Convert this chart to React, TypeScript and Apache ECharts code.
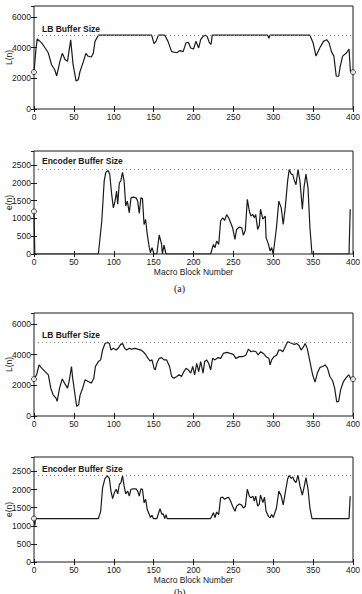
import React, { useEffect, useRef } from "react";
import * as echarts from "echarts";

// ---- data ----
const xTicks = [0, 50, 100, 150, 200, 250, 300, 350, 400];
const lbTicks = [0, 2000, 4000, 6000];
const encTicks = [0, 500, 1000, 1500, 2000, 2500];
const lbBufferSize = 4800;
const encBufferSize = 2400;

// (a) leaky-bucket occupancy L(n)
const lbA: [number, number][] = [
  [0, 2400], [2.5, 3900], [4, 4560], [9.6, 4300], [14, 3970], [18, 3640], [22, 2880], [26, 2550],
  [28.5, 2150], [32.5, 3100], [35.5, 3620], [39, 3200], [42, 3100], [46, 4500], [49, 2880],
  [52.7, 1830], [55.6, 1900], [57.7, 2440], [62, 3100], [65, 3620], [68, 3430], [72, 3380],
  [74.4, 3640], [76.5, 4400], [80.7, 4800], [147.5, 4800], [150.5, 4250], [153, 4400], [156, 4800],
  [164, 4800], [168, 4400], [172.6, 3730], [179, 3660], [183, 3800], [187, 3730], [190.6, 4300],
  [193.5, 4340], [196.5, 3970], [200, 3900], [203, 4400], [206.5, 3970], [209, 4510], [212, 4730],
  [215, 4800], [217, 4730], [220, 4300], [222, 4200], [223.5, 4800], [293, 4800], [294.5, 4600],
  [296, 4800], [346, 4800], [350, 4300], [353.6, 3440], [358.6, 4000], [363, 4400], [367, 4510],
  [370, 4300], [373, 3730], [376, 3440], [379, 2130], [382, 2130], [384, 2770], [387, 3440],
  [392, 3660], [395, 3900], [396.8, 2440], [400, 2400],
];
const lbAMarks: [number, number][] = [[0, 2400], [400, 2400]];

// (a) encoder buffer e(n)
const encA: [number, number][] = [
  [0, 1200], [1, 0], [80.7, 0], [85, 930], [88, 2050], [90, 2300], [93, 2350], [95, 2240],
  [97.4, 1680], [99.5, 1300], [101.6, 1490], [103.6, 1770], [105, 1400], [107, 2000], [109, 2070],
  [111, 2300], [113, 2050], [115, 1350], [117, 1490], [119.5, 1160], [121.6, 1580], [124.5, 1600],
  [128, 1580], [130, 1490], [132, 1140], [134, 1580], [136, 1560], [138, 830], [140, 970],
  [142, 550], [144.6, 177], [146, 40], [148, 177], [150.5, 0], [154, 0], [157, 535], [160, 270],
  [161, 0], [163, 250], [165.5, 0], [221.5, 0], [225, 270], [227, 177], [229, 365], [231.6, 270],
  [234, 930], [236.6, 1020], [239, 945], [241.6, 1110], [244, 1020], [246.6, 880], [249, 740],
  [252, 410], [254, 690], [257.5, 760], [260.4, 740], [262.5, 530], [265, 670], [267.5, 1540],
  [270, 1210], [272, 1070], [274.5, 1110], [276.3, 1020], [278, 1110], [280.5, 690], [282.5, 810],
  [284, 1260], [287, 980], [290, 1070], [291, 460], [294, 270], [296, 85], [298, 180], [300, 0],
  [304, 740], [307, 1490], [310, 1300], [312.5, 830], [315, 1300], [318, 2050], [320, 2380],
  [322.5, 2250], [324.4, 2240], [326, 2100], [328.5, 1950], [331, 2380], [333.5, 2050],
  [336.5, 1260], [338.5, 1860], [341, 2250], [343.6, 1860], [346, 740], [348.6, 0], [395, 0],
  [396.5, 1260],
];
const encAMarks: [number, number][] = [[0, 1200]];

// (b) leaky-bucket occupancy L(n)
const lbB: [number, number][] = [
  [0, 2400], [3.3, 2680], [6.3, 3320], [9.6, 3110], [14, 2890], [18, 2680], [21, 1810], [24, 1380],
  [27.6, 1160], [29, 950], [32, 1810], [35.5, 2410], [39, 2070], [42, 1810], [44, 2240], [47, 3220],
  [48.5, 2460], [51.4, 1380], [53.5, 630], [56, 730], [57.7, 1340], [61, 1810], [64, 2350],
  [68, 2240], [72, 2140], [75, 2460], [77, 3220], [80.7, 3540], [83.6, 3650], [86, 4290],
  [89, 4720], [92, 4790], [94.5, 4720], [96.5, 4290], [99.5, 4400], [103, 4290], [106, 4440],
  [108.7, 4660], [111, 4720], [113.7, 4400], [116, 4290], [119.5, 4400], [122.5, 4350],
  [126.6, 4400], [131, 4330], [134, 4290], [137, 4180], [140.4, 3970], [143, 3750], [145.5, 3580],
  [148, 3650], [150.5, 3110], [152, 3000], [154, 3430], [157, 3750], [160, 3800], [163, 3650],
  [166.3, 3650], [170, 3220], [172.6, 2570], [175.5, 2460], [179, 2570], [182, 2680], [185, 2570],
  [188, 2890], [190.6, 3110], [193.5, 3000], [196.5, 2790], [199, 3220], [201.5, 2680], [204, 3430],
  [206.5, 2890], [209, 3540], [212, 2790], [214, 3540], [216.5, 3650], [219, 3430], [221.5, 3000],
  [224, 3750], [227, 3650], [230.7, 3800], [234, 3750], [237.4, 4070], [242, 4140], [246, 4070],
  [250, 4010], [253, 3750], [257.5, 3860], [261.7, 3860], [265.8, 3970], [268.8, 4350], [272, 4180],
  [275, 4230], [278.4, 4180], [281, 3970], [284.3, 4180], [287.6, 4070], [291, 3860], [294.5, 3750],
  [296, 3320], [298, 3650], [301, 3860], [304.4, 3970], [307, 4290], [309.3, 4290], [312, 4180],
  [315, 4510], [318, 4830], [320.6, 4790], [323.5, 4720], [326.5, 4660], [329.4, 4720], [332, 4610],
  [335, 4290], [338, 4510], [340, 4720], [342.6, 4400], [346, 3540], [349.4, 2680], [352.4, 2200],
  [355.3, 2790], [358.6, 3160], [362, 3220], [365, 3320], [368, 3110], [371, 2570], [374.5, 2290],
  [377, 1810], [379.6, 910], [382, 950], [384.5, 1700], [388, 2240], [391, 2460], [394.6, 2680],
  [397, 2460], [400, 2400],
];
const lbBMarks: [number, number][] = [[0, 2400], [400, 2400]];

// (b) encoder buffer e(n)
const encB: [number, number][] = [
  [0, 1200], [1, 1000], [2, 1200], [80.7, 1200], [83.6, 1400], [86, 2050], [89, 2310], [92, 2380],
  [94.5, 2310], [96.5, 1960], [98.6, 1750], [100.7, 1910], [103, 2010], [105, 1880], [107, 2140],
  [109, 2190], [111, 2380], [113, 2100], [115, 1880], [117.5, 1960], [119.5, 1820], [121.6, 2010],
  [124.5, 2020], [128, 2020], [130, 1960], [132, 1820], [134, 2020], [136, 2010], [138, 1640],
  [140, 1730], [142, 1450], [144.6, 1310], [146, 1230], [148, 1290], [149.6, 1200], [154, 1200],
  [158, 1470], [160.5, 1310], [162, 1330], [164, 1200], [165.5, 1310], [167, 1200], [221.5, 1200],
  [225, 1360], [227, 1230], [229, 1380], [231.6, 1310], [234, 1770], [236.6, 1790], [239, 1730],
  [241.6, 1770], [244, 1790], [246.6, 1680], [249, 1540], [252, 1400], [254, 1540], [257.5, 1600],
  [260.4, 1570], [262.5, 1490], [265, 1540], [267.5, 2010], [270, 1820], [272, 1770], [274.5, 1820],
  [276.3, 1680], [278, 1820], [280.5, 1540], [282.5, 1600], [284, 1850], [287, 1640], [289, 1790],
  [291, 1400], [294, 1260], [296, 1220], [298, 1310], [300, 1230], [304, 1490], [307, 1960],
  [310, 1820], [312.5, 1580], [315, 1910], [318, 2290], [320, 2390], [322.5, 2310], [324.4, 2350],
  [326, 2260], [328.5, 2190], [331, 2400], [333.5, 2100], [336.5, 1850], [338.5, 2050], [341, 2330],
  [343.6, 2010], [346, 1490], [348.6, 1200], [395, 1200], [396.5, 1820],
];
const encBMarks: [number, number][] = [[0, 1200]];

const FONT = "'Liberation Sans', Arial, Helvetica, sans-serif";
const INK = "#1a1a1a";

type Panel = {
  top: number;
  height: number;
  yMax: number;
  yInterval: number;
  yTicks: number[];
  yName: string;
  xName: string;
  data: [number, number][];
  marks: [number, number][];
  limit: number;
};

const panels: Panel[] = [
  { top: 6, height: 103, yMax: 6700, yInterval: 2000, yTicks: lbTicks, yName: "L(n)", xName: "", data: lbA, marks: lbAMarks, limit: lbBufferSize },
  { top: 151, height: 103, yMax: 2900, yInterval: 500, yTicks: encTicks, yName: "e(n)", xName: "Macro Block Number", data: encA, marks: encAMarks, limit: encBufferSize },
  { top: 313, height: 103, yMax: 6700, yInterval: 2000, yTicks: lbTicks, yName: "L(n)", xName: "", data: lbB, marks: lbBMarks, limit: lbBufferSize },
  { top: 457, height: 105, yMax: 2900, yInterval: 500, yTicks: encTicks, yName: "e(n)", xName: "Macro Block Number", data: encB, marks: encBMarks, limit: encBufferSize },
];

const labelStyle = { fontFamily: FONT, fontSize: 8.5, color: INK };

function buildOption() {
  const grid: any[] = [];
  const xAxis: any[] = [];
  const yAxis: any[] = [];
  const series: any[] = [];
  const graphic: any[] = [];

  panels.forEach((p, i) => {
    grid.push({
      left: 34,
      right: 9,
      top: p.top,
      height: p.height,
      show: true,
      borderColor: INK,
      borderWidth: 1,
      backgroundColor: "#fff",
      containLabel: false,
      outerBoundsMode: "none",
    });
    const xCommon = {
      gridIndex: i,
      type: "value",
      min: xTicks[0],
      max: xTicks[xTicks.length - 1],
      interval: 50,
      splitLine: { show: false },
      axisLine: { show: false },
      axisTick: { show: true, inside: true, length: 3, lineStyle: { color: INK, width: 1 } },
    };
    xAxis.push({
      ...xCommon,
      position: "bottom",
      axisLabel: { ...labelStyle, margin: 3, formatter: (v: number) => (xTicks.includes(v) ? String(v) : "") },
      name: p.xName,
      nameLocation: "middle",
      nameGap: 13.5,
      nameMoveOverlap: false,
      nameTextStyle: { fontFamily: FONT, fontSize: 8.5, color: INK },
    });
    xAxis.push({ ...xCommon, position: "top", axisLabel: { show: false } });

    const yCommon = {
      gridIndex: i,
      type: "value",
      min: 0,
      max: p.yMax,
      interval: p.yInterval,
      splitLine: { show: false },
      axisLine: { show: false },
      axisTick: { show: true, inside: true, length: 3, lineStyle: { color: INK, width: 1 } },
    };
    yAxis.push({
      ...yCommon,
      position: "left",
      axisLabel: {
        ...labelStyle,
        margin: 3,
        showMaxLabel: false,
        formatter: (v: number) => (p.yTicks.includes(v) ? String(v) : ""),
      },
      name: p.yName,
      nameLocation: "middle",
      nameGap: 21,
      nameRotate: 90,
      nameMoveOverlap: false,
      nameTextStyle: { fontFamily: FONT, fontSize: 8.5, color: INK },
    });
    yAxis.push({ ...yCommon, position: "right", axisLabel: { show: false } });

    series.push({
      type: "line",
      xAxisIndex: 2 * i,
      yAxisIndex: 2 * i,
      data: p.data,
      showSymbol: false,
      symbol: "none",
      lineStyle: { color: INK, width: 1.2 },
      markLine: {
        silent: true,
        symbol: "none",
        label: { show: false },
        lineStyle: { color: "#888", type: [1, 3], width: 1 },
        data: [{ yAxis: p.limit }],
      },
      z: 3,
    });
    series.push({
      type: "scatter",
      xAxisIndex: 2 * i,
      yAxisIndex: 2 * i,
      data: p.marks,
      symbol: "circle",
      symbolSize: 5,
      itemStyle: { color: "#fff", borderColor: INK, borderWidth: 1 },
      z: 4,
    });
  });

  graphic.push(
    { type: "text", left: 42, top: 24, style: { text: "LB Buffer Size", font: `bold 8.5px ${FONT}`, fill: INK }, z: 10 },
    { type: "text", left: 42, top: 156.5, style: { text: "Encoder Buffer Size", font: `bold 8.5px ${FONT}`, fill: INK }, z: 10 },
    { type: "text", left: 42, top: 330, style: { text: "LB Buffer Size", font: `bold 8.5px ${FONT}`, fill: INK }, z: 10 },
    { type: "text", left: 42, top: 464, style: { text: "Encoder Buffer Size", font: `bold 8.5px ${FONT}`, fill: INK }, z: 10 },
    { type: "text", left: 174, top: 283, style: { text: "(a)", font: `10px 'Liberation Serif', 'Times New Roman', serif`, fill: INK }, z: 10 },
    { type: "text", left: 174, top: 587, style: { text: "(b)", font: `10px 'Liberation Serif', 'Times New Roman', serif`, fill: INK }, z: 10 }
  );

  return {
    animation: false,
    backgroundColor: "#fff",
    grid,
    xAxis,
    yAxis,
    series,
    graphic,
  };
}

export default function App() {
  const ref = useRef<HTMLDivElement>(null);
  useEffect(() => {
    if (!ref.current) return;
    const chart = echarts.init(ref.current, undefined, { renderer: "svg" });
    chart.setOption(buildOption() as any);
    return () => chart.dispose();
  }, []);
  return (
    <div
      ref={ref}
      style={{ position: "absolute", left: 0, top: 0, width: 362, height: 594, background: "#fff" }}
    />
  );
}
